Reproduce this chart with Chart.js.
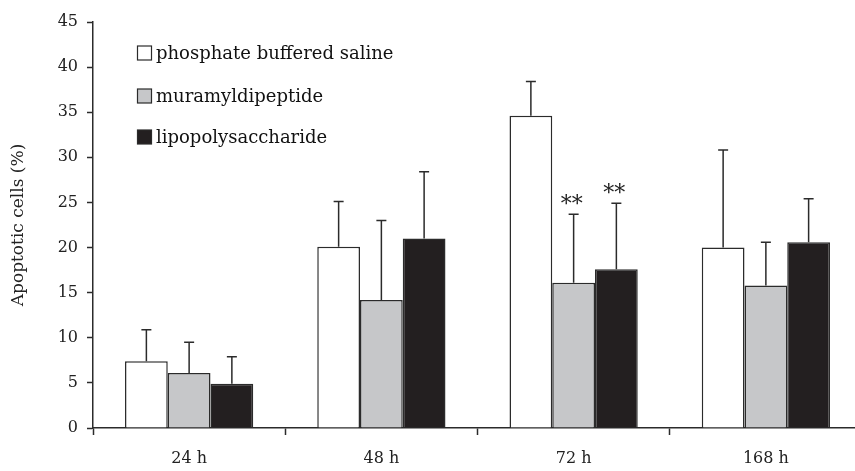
<!DOCTYPE html>
<html>
<head>
<meta charset="utf-8">
<script src="https://cdn.jsdelivr.net/npm/chart.js@4"></script>
<style>
    html, body { margin: 0; padding: 0; background: #ffffff; overflow: hidden; }
    #cadre { width: 866px; height: 471px; }
</style>
</head>
<body>
<div id="cadre"><canvas id="chartApoptose" width="866" height="471"></canvas></div>
<script>
// ============================================
// Données
// ============================================

const categories = ['24 h', '48 h', '72 h', '168 h'];

const series = ['phosphate buffered saline', 'muramyldipeptide', 'lipopolysaccharide'];

const valeursPBS = [7.4, 20.1, 34.6, 20.0];
const valeursMDP = [6.1, 14.2, 16.1, 15.8];
const valeursLPS = [4.9, 21.0, 17.6, 20.6];

// écart-type (barre d'erreur vers le haut uniquement)
const erreursPBS = [3.5, 5.0, 3.8, 10.8];
const erreursMDP = [3.4, 8.8, 7.6, 4.8];
const erreursLPS = [3.0, 7.4, 7.3, 4.8];

const significatif = [
    ['', '', '', ''],
    ['', '', '**', ''],
    ['', '', '**', '']
];

const ticksY = [0, 5, 10, 15, 20, 25, 30, 35, 40, 45];

const COULEURS = ['#ffffff', '#c6c7c9', '#231f20'];
const TRAIT = '#2b2b2b';
const POLICE = '"DejaVu Serif", "Liberation Serif", serif';

// ============================================
// Plugins : barres d'erreur, étoiles, légende
// ============================================

const barresErreur = {
    id: 'barresErreur',
    afterDatasetsDraw(chart) {
        const ctx = chart.ctx;
        const y = chart.scales.y;
        ctx.save();
        ctx.strokeStyle = TRAIT;
        ctx.lineWidth = 1.5;
        ctx.fillStyle = '#222';
        ctx.font = '22px ' + POLICE;
        ctx.textAlign = 'center';
        ctx.textBaseline = 'alphabetic';
        chart.data.datasets.forEach((ds, i) => {
            const meta = chart.getDatasetMeta(i);
            meta.data.forEach((bar, j) => {
                const haut = y.getPixelForValue(ds.data[j] + ds.erreurs[j]);
                ctx.beginPath();
                ctx.moveTo(bar.x, bar.y);
                ctx.lineTo(bar.x, haut);
                ctx.moveTo(bar.x - 5, haut);
                ctx.lineTo(bar.x + 5, haut);
                ctx.stroke();
                if (significatif[i][j]) {
                    ctx.fillText(significatif[i][j], bar.x - 2, haut - 3);
                }
            });
        });
        ctx.restore();
    }
};

const legendeInterne = {
    id: 'legendeInterne',
    afterDraw(chart) {
        const ctx = chart.ctx;
        const lignes = [53, 96, 137];
        ctx.save();
        ctx.font = '18px ' + POLICE;
        ctx.textBaseline = 'middle';
        chart.data.datasets.forEach((ds, i) => {
            const yl = lignes[i];
            ctx.fillStyle = ds.backgroundColor;
            ctx.fillRect(137.5, yl - 7, 14, 14);
            ctx.strokeStyle = TRAIT;
            ctx.lineWidth = 1.2;
            ctx.strokeRect(137.5, yl - 7, 14, 14);
            ctx.fillStyle = '#111';
            ctx.fillText(ds.label, 156, yl + 1);
        });
        ctx.restore();
    }
};

// ============================================
// Graphique
// ============================================

const jeux = [valeursPBS, valeursMDP, valeursLPS];
const erreurs = [erreursPBS, erreursMDP, erreursLPS];

new Chart(document.getElementById('chartApoptose'), {
    type: 'bar',
    data: {
        labels: categories,
        datasets: series.map((nom, i) => ({
            label: nom,
            data: jeux[i],
            erreurs: erreurs[i],
            backgroundColor: COULEURS[i],
            borderColor: TRAIT,
            borderWidth: 1.5,
            categoryPercentage: 0.667,
            barPercentage: 1
        }))
    },
    options: {
        responsive: false,
        animation: false,
        layout: { padding: { top: 22, right: 4, left: 0, bottom: 0 } },
        plugins: {
            legend: { display: false },
            tooltip: { enabled: false }
        },
        scales: {
            x: {
                offset: true,
                afterFit: s => { s.height = 43; },
                grid: {
                    drawOnChartArea: false,
                    tickLength: 7,
                    tickWidth: 1.5,
                    color: TRAIT,
                    offset: true
                },
                border: { color: TRAIT, width: 1.5 },
                ticks: {
                    padding: 14,
                    color: '#222',
                    font: { family: POLICE, size: 16 }
                }
            },
            y: {
                min: 0,
                max: 45,
                afterFit: s => { s.width = 93; },
                afterBuildTicks: s => { s.ticks = ticksY.map(v => ({ value: v })); },
                grid: {
                    drawOnChartArea: false,
                    tickLength: 6,
                    tickWidth: 1.5,
                    color: TRAIT
                },
                border: { color: TRAIT, width: 1.5 },
                ticks: {
                    padding: 9,
                    color: '#222',
                    font: { family: POLICE, size: 16 }
                },
                title: {
                    display: true,
                    text: 'Apoptotic cells (%)',
                    color: '#222',
                    padding: { top: 8, bottom: 4 },
                    font: { family: POLICE, size: 17 }
                }
            }
        }
    },
    plugins: [barresErreur, legendeInterne]
});
</script>
</body>
</html>
